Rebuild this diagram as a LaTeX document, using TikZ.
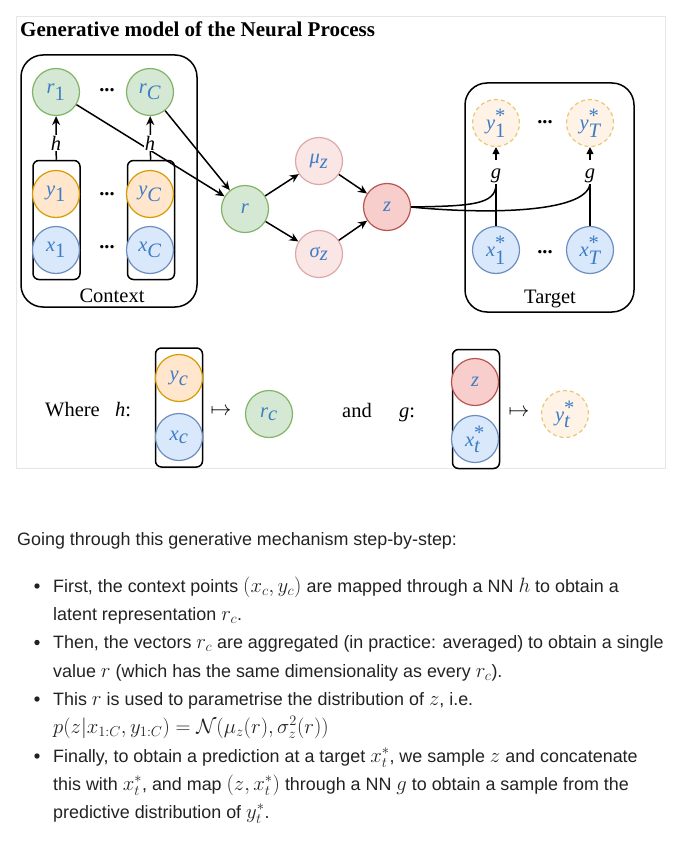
\documentclass[tikz,border=0pt]{standalone}
\usepackage[no-math]{fontspec}
\setmainfont{Liberation Serif}
\newfontfamily\bodyfont{Liberation Sans}
\DeclareMathSizes{17.9}{21.4}{15}{10.8}
\usetikzlibrary{arrows.meta}
\definecolor{grnf}{HTML}{D5E8D4}
\definecolor{grnd}{HTML}{82B366}
\definecolor{orf}{HTML}{FFE6CC}
\definecolor{ord}{HTML}{D79B00}
\definecolor{blf}{HTML}{DAE8FC}
\definecolor{bld}{HTML}{6C8EBF}
\definecolor{rdf}{HTML}{F8CECC}
\definecolor{rdd}{HTML}{B85450}
\definecolor{labblue}{HTML}{3C7DC4}
\definecolor{framegray}{HTML}{E6E6E6}
\definecolor{bodytext}{HTML}{222222}
\begin{document}
\begin{tikzpicture}[x=1pt,y=-1pt,
  every node/.style={font=\fontsize{20.5}{24}\selectfont},
  var/.style={circle, minimum size=47pt, inner sep=0pt, line width=1.2pt, text=labblue},
  gvar/.style={var, draw=grnd, fill=grnf},
  ovar/.style={var, draw=ord, fill=orf},
  bvar/.style={var, draw=bld, fill=blf},
  rvar/.style={var, draw=rdd, fill=rdf},
  lvar/.style={var, draw=rdd!50, fill=rdf!50},
  tvar/.style={var, draw=ord!55, fill=orf!50, dashed, dash pattern=on 4pt off 3pt},
  plate/.style={draw, line width=1.5pt, rounded corners=22pt},
  pair/.style={draw, line width=1.5pt, rounded corners=6pt, minimum width=47pt, minimum height=119pt},
  arr/.style={-{Stealth[length=9pt,width=8pt]}, line width=1.5pt},
  garr/.style={-{Triangle[length=7pt,width=7pt]}, line width=1.2pt, shorten <=8pt},
  conn/.style={line width=1.5pt},
  fn/.style={fill=white, inner sep=1pt},
  body/.style={anchor=base west, inner sep=0pt, text=bodytext, font=\bodyfont\fontsize{17.9}{22}\selectfont},
  bullet/.style={circle, fill=bodytext, inner sep=0pt, minimum size=5.4pt}]
\useasboundingbox (0,0) rectangle (695,848);
\draw[framegray, line width=1pt] (16.5,16.5) rectangle (665,468.5);
\node[anchor=base west, inner sep=0pt, font=\bfseries\fontsize{21}{25}\selectfont] (title) at (20,37) {Generative model of the Neural Process};
% context
\node[plate, minimum width=176pt, minimum height=252pt] (ctx) at (109,181) {};
\node (ctxlab) at (112,296) {Context};
\node[pair] (p1) at (56.5,220) {};
\node[pair] (pC) at (151,220) {};
\node[gvar] (r1) at (56,92) {$\textit{r}_{\textrm{1}}$};
\node[gvar] (rC) at (150,92) {$\textit{r}_{\textit{C}}$};
\node[ovar] (y1) at (56,194) {$\textit{y}_{\textrm{1}}$};
\node[ovar] (yC) at (150,194) {$\textit{y}_{\textit{C}}$};
\node[bvar] (x1) at (56,250) {$\textit{x}_{\textrm{1}}$};
\node[bvar] (xC) at (150,250) {$\textit{x}_{\textit{C}}$};
\node (d1) at (107,90) {\textbf{...}};
\node (d2) at (107,194) {\textbf{...}};
\node (d3) at (107,247) {\textbf{...}};
\draw[arr] (p1) -- (r1);
\draw[arr] (pC) -- (rC);
% latent path
\node[gvar] (r) at (245,209) {\textit{r}};
\node[lvar] (mu) at (319,161) {$\textit{μ}_{\textit{z}}$};
\node[lvar] (sig) at (319,254) {$\textit{σ}_{\textit{z}}$};
\node[rvar] (z) at (387,207) {\textit{z}};
\draw[arr] (r1) -- (r);
\draw[arr] (rC) -- (r);
\node[fn] (h1) at (56,143) {\textit{h}};
\node[fn] (hC) at (150,143) {\textit{h}};
\draw[arr] (r) -- (mu);
\draw[arr] (r) -- (sig);
\draw[arr] (mu) -- (z);
\draw[arr] (sig) -- (z);
% target
\node[plate, minimum width=169pt, minimum height=229pt] (tgt) at (549.5,197.5) {};
\node (tgtlab) at (550,299) {Target};
\node[tvar] (y1s) at (496,123) {$\textit{y}^{\textrm{*}}_{\textrm{1}}$};
\node[tvar] (yTs) at (590,123) {$\textit{y}^{\textrm{*}}_{\textit{T}}$};
\node[bvar] (x1s) at (496,250) {$\textit{x}^{\textrm{*}}_{\textrm{1}}$};
\node[bvar] (xTs) at (590,250) {$\textit{x}^{\textrm{*}}_{\textit{T}}$};
\node (d4) at (545,122) {\textbf{...}};
\node (d5) at (545,252) {\textbf{...}};
\node[inner sep=1pt] (g1) at (496,176) {\textit{g}};
\node[inner sep=1pt] (gT) at (590,176) {\textit{g}};
\draw[garr] (g1) -- (y1s);
\draw[garr] (gT) -- (yTs);
\draw[conn] (x1s) -- (g1);
\draw[conn] (xTs) -- (gT);
\draw[conn] (z.east) .. controls (470,206) and (496,205) .. (g1.south);
\draw[conn] (z.east) .. controls (480,214) and (585,214) .. (gT.south);
% where h and g
\node[anchor=base west, inner sep=0pt] (where) at (45,416) {Where\hspace{0.75em}\textit{h}:};
\node[pair] (hb) at (179,407.5) {};
\node[ovar] (yc) at (179,378) {$\textit{y}_{\textit{c}}$};
\node[bvar] (xc) at (179,437) {$\textit{x}_{\textit{c}}$};
\node (mt1) at (221,412) {$\mapsto$};
\node[gvar] (rc) at (269,414) {$\textit{r}_{\textit{c}}$};
\node[anchor=base west, inner sep=0pt] (and) at (342,417) {and};
\node[anchor=base west, inner sep=0pt] (gcol) at (399,417) {\textit{g}:};
\node[pair] (gb) at (476,409) {};
\node[rvar] (zb) at (475,382) {\textit{z}};
\node[bvar] (xtb) at (475,439) {$\textit{x}^{\textrm{*}}_{\textit{t}}$};
\node (mt2) at (519,413) {$\mapsto$};
\node[tvar] (yt) at (565,414) {$\textit{y}^{\textrm{*}}_{\textit{t}}$};
% text below
\node[body] (l0) at (17,545) {Going through this generative mechanism step-by-step:};
\node[bullet] (b1) at (37,586) {};
\node[bullet] (b2) at (37,642.5) {};
\node[bullet] (b3) at (37,699) {};
\node[bullet] (b4) at (37,756) {};
\node[body] (l1) at (53,592) {First, the context points $(x_c, y_c)$ are mapped through a NN $h$ to obtain a};
\node[body] (l2) at (53,620) {latent representation $r_c$.};
\node[body] (l3) at (53,648.5) {Then, the vectors $r_c$ are aggregated (in practice: averaged) to obtain a single};
\node[body] (l4) at (53,677) {value $r$ (which has the same dimensionality as every $r_c$).};
\node[body] (l5) at (53,705) {This $r$ is used to parametrise the distribution of $z$, i.e.};
\node[body] (l6) at (53,733.5) {$p(z|x_{1:C}, y_{1:C}) = \mathcal{N}(\mu_z(r), \sigma^2_z(r))$};
\node[body] (l7) at (53,762) {Finally, to obtain a prediction at a target $x^*_t$, we sample $z$ and concatenate};
\node[body] (l8) at (53,790) {this with $x^*_t$, and map $(z, x^*_t)$ through a NN $g$ to obtain a sample from the};
\node[body] (l9) at (53,818.5) {predictive distribution of $y^*_t$.};
\end{tikzpicture}
\end{document}
